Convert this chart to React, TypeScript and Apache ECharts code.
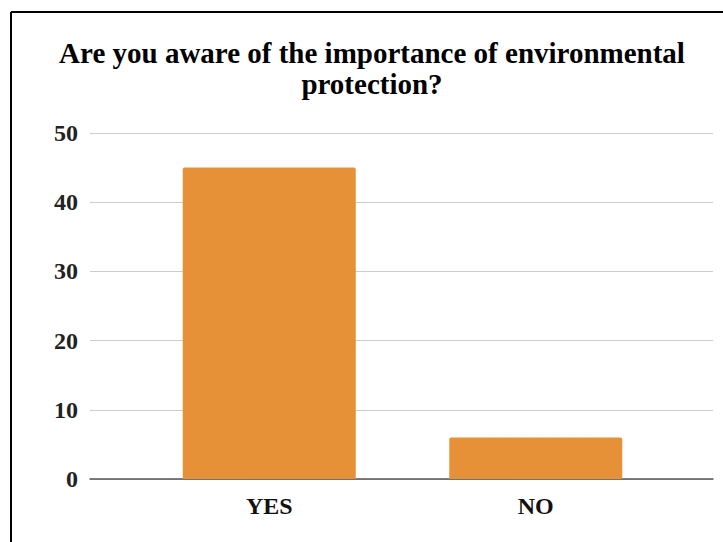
import React, { useEffect, useRef } from "react";
import * as echarts from "echarts";

const categories = ["YES", "NO"];
const responses = [45, 6];
const yTicks = [0, 10, 20, 30, 40, 50];
const titleText = "Are you aware of the importance of environmental\nprotection?";

export default function App() {
  const ref = useRef<HTMLDivElement>(null);
  useEffect(() => {
    document.body.style.margin = "0";
    const chart = echarts.init(ref.current!, null, { renderer: "svg" });
    const font = "Liberation Serif";
    chart.setOption({
      animation: false,
      backgroundColor: "#ffffff",
      title: {
        text: titleText,
        left: 372,
        textAlign: "center",
        top: 37,
        padding: 0,
        textStyle: {
          fontFamily: font,
          fontWeight: "bold",
          fontSize: 29,
          lineHeight: 31,
          color: "#000000",
        },
      },
      graphic: [
        { type: "line", shape: { x1: 11, y1: 12, x2: 723, y2: 12 }, style: { stroke: "#000", lineWidth: 2 } },
        { type: "line", shape: { x1: 11, y1: 12, x2: 11, y2: 542 }, style: { stroke: "#000", lineWidth: 2 } },
      ],
      grid: [
        { left: 90, right: 10, top: 133, bottom: 63 },
        { left: 136, right: 54, top: 133, bottom: 63 },
      ],
      xAxis: [
        {
          type: "category",
          gridIndex: 0,
          data: categories,
          axisLine: { show: true, lineStyle: { color: "#555", width: 1.5 } },
          axisTick: { show: false },
          axisLabel: { show: false },
        },
        {
          type: "category",
          gridIndex: 1,
          data: categories,
          axisLine: { show: false },
          axisTick: { show: false },
          axisLabel: {
            margin: 15,
            fontFamily: font,
            fontWeight: "bold",
            fontSize: 24,
            color: "#111",
          },
        },
      ],
      yAxis: [
        {
          type: "value",
          gridIndex: 0,
          min: yTicks[0],
          max: yTicks[yTicks.length - 1],
          interval: 10,
          axisLine: { show: false },
          axisTick: { show: false },
          splitLine: { lineStyle: { color: "#cccccc", width: 1 } },
          axisLabel: {
            margin: 12,
            fontFamily: font,
            fontWeight: "bold",
            fontSize: 24,
            color: "#222",
          },
        },
        {
          type: "value",
          gridIndex: 1,
          min: yTicks[0],
          max: yTicks[yTicks.length - 1],
          interval: 10,
          show: false,
          splitLine: { show: false },
        },
      ],
      series: [
        {
          type: "bar",
          xAxisIndex: 1,
          yAxisIndex: 1,
          data: responses,
          barWidth: 173,
          itemStyle: { color: "#e69138", borderRadius: [2, 2, 0, 0] },
        },
      ],
    });
    return () => chart.dispose();
  }, []);
  return <div ref={ref} style={{ width: 723, height: 542 }} />;
}
